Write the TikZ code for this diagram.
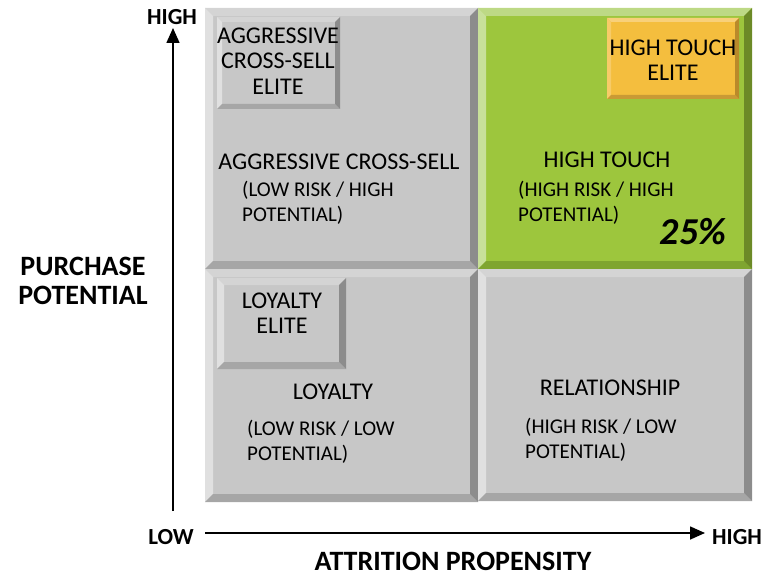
\documentclass[tikz,border=0pt]{standalone}
\usepackage{fontspec}
\setmainfont{Carlito}
\usetikzlibrary{arrows.meta}

% bevel palettes: face, top, left, right, bottom
\definecolor{grayFace}{HTML}{C7C7C7}
\definecolor{grayTop}{HTML}{D4D4D4}
\definecolor{grayLeft}{HTML}{E0E0E0}
\definecolor{grayRight}{HTML}{8C8C8C}
\definecolor{grayBottom}{HTML}{A6A6A6}
\definecolor{greenFace}{HTML}{9DC63D}
\definecolor{greenTop}{HTML}{BDD985}
\definecolor{greenLeft}{HTML}{C8E09A}
\definecolor{greenRight}{HTML}{6C8A27}
\definecolor{greenBottom}{HTML}{7FA530}
\definecolor{orangeFace}{HTML}{F4BE3E}
\definecolor{orangeTop}{HTML}{F8D07A}
\definecolor{orangeLeft}{HTML}{F7CB68}
\definecolor{orangeRight}{HTML}{B98A2A}
\definecolor{orangeBottom}{HTML}{C99A35}

% bevelled box: x1, y1, x2, y2, bevel width, palette prefix
\newcommand\BevelBox[6]{%
  \fill[#6Face] (#1,#2) rectangle (#3,#4);
  \fill[#6Top] (#1,#2) -- (#3,#2) -- ({#3-#5},{#2+#5}) -- ({#1+#5},{#2+#5}) -- cycle;
  \fill[#6Left] (#1,#2) -- ({#1+#5},{#2+#5}) -- ({#1+#5},{#4-#5}) -- (#1,#4) -- cycle;
  \fill[#6Bottom] (#1,#4) -- ({#1+#5},{#4-#5}) -- ({#3-#5},{#4-#5}) -- (#3,#4) -- cycle;
  \fill[#6Right] (#3,#2) -- (#3,#4) -- ({#3-#5},{#4-#5}) -- ({#3-#5},{#2+#5}) -- cycle;
}

\begin{document}
\begin{tikzpicture}[x=1pt,y=-1pt,
  every node/.style={inner sep=0pt},
  title/.style={font=\fontsize{24}{25.5}\selectfont},
  multi/.style={align=center},
  note/.style={font=\fontsize{21}{25}\selectfont, align=left, anchor=west},
  axislabel/.style={font=\fontsize{23}{28}\selectfont\bfseries},
  axistitle/.style={font=\fontsize{28}{29}\selectfont\bfseries},
  axisarrow/.style={line width=1.6pt, -{Triangle[length=15pt,width=13pt]}}]
\useasboundingbox (0,0) rectangle (768,575);

% quadrants
\BevelBox{205}{8}{478}{269}{8}{gray}
\BevelBox{478}{8}{752}{269}{8}{green}
\BevelBox{205}{269}{478}{502}{8}{gray}
\BevelBox{478}{269}{752}{501}{8}{gray}

% elite boxes
\BevelBox{217}{17}{340}{109}{5}{gray}
\BevelBox{607}{18}{739}{99}{4}{orange}
\BevelBox{217}{278}{346}{369}{7}{gray}

% top-left quadrant
\node[title,multi] (aceliteT) at (278,61) {AGGRESSIVE\\CROSS-SELL\\ELITE};
\node[title] (acT) at (339,162) {AGGRESSIVE CROSS-SELL};
\node[note] (acN) at (242,203) {(LOW RISK / HIGH\\POTENTIAL)};

% top-right quadrant
\node[title,multi] (hteliteT) at (673,60) {HIGH TOUCH\\ELITE};
\node[title] (htT) at (607,160) {HIGH TOUCH};
\node[note] (htN) at (518,203) {(HIGH RISK / HIGH\\POTENTIAL)};
\node[font=\fontsize{38}{40}\selectfont\bfseries\itshape] (pct) at (693,232) {25\%};

% bottom-left quadrant
\node[title,multi] (loyeliteT) at (282,313) {LOYALTY\\ELITE};
\node[title] (loyT) at (333,392) {LOYALTY};
\node[note] (loyN) at (247,442) {(LOW RISK / LOW\\POTENTIAL)};

% bottom-right quadrant
\node[title] (relT) at (610,388) {RELATIONSHIP};
\node[note] (relN) at (525,440) {(HIGH RISK / LOW\\POTENTIAL)};

% axes
\node[axislabel] (yhigh) at (172,17) {HIGH};
\node[axistitle,multi] (ytitle) at (83,281) {PURCHASE\\POTENTIAL};
\node[axislabel] (xlow) at (171,537) {LOW};
\node[axislabel] (xhigh) at (737,537) {HIGH};
\node[axistitle] (xtitle) at (453,561) {ATTRITION PROPENSITY};

\coordinate (ystart) at (173,511);
\coordinate (yend) at (173,28);
\coordinate (xstart) at (205,533);
\coordinate (xend) at (705,533);
\draw[axisarrow] (ystart) -- (yend);
\draw[axisarrow] (xstart) -- (xend);
\end{tikzpicture}
\end{document}
